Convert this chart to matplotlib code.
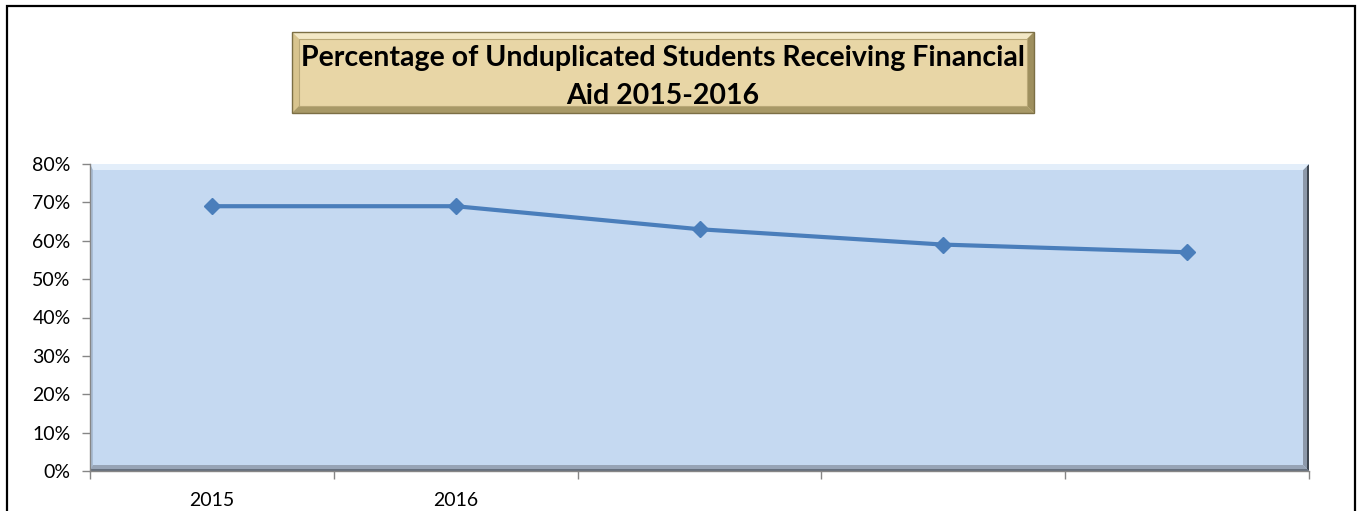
import matplotlib
matplotlib.use("Agg")
import matplotlib.pyplot as plt
from matplotlib.patches import Rectangle, Polygon
import numpy as np

# ---- data ----
categories = ["2015", "2016", "", "", ""]
values = [69, 69, 63, 59, 57]
yticks = [0, 10, 20, 30, 40, 50, 60, 70, 80]
title_lines = ["Percentage of Unduplicated Students Receiving Financial", "Aid 2015-2016"]

W, H = 1358, 511
fig = plt.figure(figsize=(W / 100, H / 100), dpi=100)
fig.patch.set_facecolor("white")

def fx(px):
    return px / W

def fy(py):
    return 1 - py / H

# outer frame
frame = Rectangle((fx(7), fy(530)), fx(1355) - fx(7), fy(6) - fy(530),
                  transform=fig.transFigure, fill=False, edgecolor="black",
                  linewidth=1.6, zorder=0)
fig.patches.append(frame)

# plot axes
x0, x1, ytop, ybot = 90, 1309, 164, 471
ax = fig.add_axes([fx(x0), fy(ybot), fx(x1) - fx(x0), fy(ytop) - fy(ybot)])
ax.set_facecolor("#C5D9F1")
n = len(categories)
xs = np.arange(1, n + 1)
ax.set_xlim(0.5, n + 0.5)
ax.set_ylim(0, 80)

# bevel effect on plot area (axes coords)
bw = 6 / (x1 - x0)
bh = 6 / (ybot - ytop)
ax.add_patch(Polygon([[1 - bw, bh], [1, 0], [1, 1], [1 - bw, 1 - bh]],
                     closed=True, transform=ax.transAxes, facecolor="#8D99AA",
                     edgecolor="none", zorder=1))
ax.add_patch(Polygon([[1 - 2 * bw / 6, 0], [1, 0], [1, 1], [1 - 2 * bw / 6, 1 - bh / 3]],
                     closed=True, transform=ax.transAxes, facecolor="#3E4650",
                     edgecolor="none", zorder=1))
ax.add_patch(Polygon([[0, 0], [1, 0], [1 - bw, bh], [bw * 0.3, bh]],
                     closed=True, transform=ax.transAxes, facecolor="#97A4B6",
                     edgecolor="none", zorder=1))
ax.add_patch(Polygon([[0, 0], [1, 0], [1 - bw / 3, bh / 3], [0, bh / 3]],
                     closed=True, transform=ax.transAxes, facecolor="#66707E",
                     edgecolor="none", zorder=1))
ax.add_patch(Polygon([[0, 1], [1, 1], [1 - bw, 1 - bh], [bw * 0.3, 1 - bh]],
                     closed=True, transform=ax.transAxes, facecolor="#E3EEFA",
                     edgecolor="none", zorder=1))
ax.add_patch(Polygon([[0, 0], [bw * 0.5, bh], [bw * 0.5, 1 - bh], [0, 1]],
                     closed=True, transform=ax.transAxes, facecolor="#A9BCD3",
                     edgecolor="none", zorder=1))

ax.plot(xs, values, color="#4A7EBB", linewidth=3, marker="D", markersize=8,
        markerfacecolor="#4A7EBB", markeredgecolor="#4A7EBB", zorder=3,
        solid_joinstyle="round")

# axes styling
for s in ["top", "right"]:
    ax.spines[s].set_visible(False)
for s in ["left", "bottom"]:
    ax.spines[s].set_color("#868686")
    ax.spines[s].set_linewidth(1)

ax.set_yticks(yticks)
ax.set_yticklabels([f"{v}%" for v in yticks], fontsize=14, family="Lato")
ax.tick_params(axis="y", length=6, width=1, color="#868686", pad=8)

ax.set_xticks(np.arange(0.5, n + 1, 1.0))
ax.set_xticklabels([])
ax.set_xticks(xs, minor=True)
ax.set_xticklabels(categories, minor=True, fontsize=14, family="Lato")
ax.tick_params(axis="x", which="major", length=6, width=1, color="#868686")
ax.tick_params(axis="x", which="minor", length=0, pad=15)

# title box
tx0, tx1, ty0, ty1 = 292, 1034, 32, 113
bev = 7
def box(px0, py0, px1, py1, color, z):
    r = Rectangle((fx(px0), fy(py1)), fx(px1) - fx(px0), fy(py0) - fy(py1),
                  transform=fig.transFigure, facecolor=color, edgecolor="none", zorder=z)
    fig.patches.append(r)

def poly(pts, color, z):
    p = Polygon([[fx(a), fy(b)] for a, b in pts], closed=True,
                transform=fig.transFigure, facecolor=color, edgecolor="none", zorder=z)
    fig.patches.append(p)

box(tx0, ty0, tx1, ty1, "#E8D6A6", 1)
poly([(tx0, ty0), (tx1, ty0), (tx1 - bev, ty0 + bev), (tx0 + bev, ty0 + bev)], "#F3E8C6", 2)
poly([(tx0, ty0), (tx0 + bev, ty0 + bev), (tx0 + bev, ty1 - bev), (tx0, ty1)], "#D8C48E", 2)
poly([(tx1, ty0), (tx1, ty1), (tx1 - bev, ty1 - bev), (tx1 - bev, ty0 + bev)], "#9E8F5E", 2)
poly([(tx0, ty1), (tx1, ty1), (tx1 - bev, ty1 - bev), (tx0 + bev, ty1 - bev)], "#A89967", 2)
r = Rectangle((fx(tx0), fy(ty1)), fx(tx1) - fx(tx0), fy(ty0) - fy(ty1),
              transform=fig.transFigure, fill=False, edgecolor="#7C6F45",
              linewidth=1, zorder=3)
fig.patches.append(r)
r2 = Rectangle((fx(tx0 + bev), fy(ty1 - bev)), fx(tx1 - bev) - fx(tx0 + bev),
               fy(ty0 + bev) - fy(ty1 - bev), transform=fig.transFigure, fill=False,
               edgecolor="#B9A877", linewidth=0.8, zorder=3)
fig.patches.append(r2)

t1 = fig.text(fx(663), fy(58), title_lines[0], ha="center", va="center",
              fontsize=17, fontweight="bold", family="Lato", zorder=4)
t2 = fig.text(fx(663), fy(96), title_lines[1], ha="center", va="center",
              fontsize=17, fontweight="bold", family="Lato", zorder=4)
fig.canvas.draw()
ext = t1.get_window_extent()
target = 727
fs = 17 * target / ext.width
t1.set_fontsize(fs)
t2.set_fontsize(fs)

fig.savefig("out.png", dpi=100)
